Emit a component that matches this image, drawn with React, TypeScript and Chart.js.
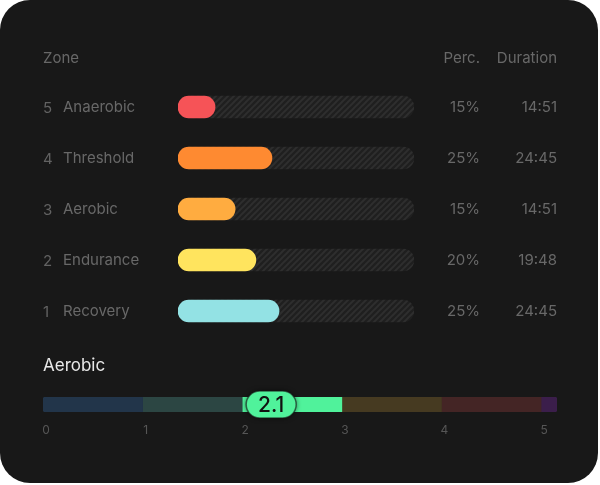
import React, { useEffect, useRef } from "react";
import { Chart, registerables } from "chart.js";

Chart.register(...registerables);

// ---- Data ----
const headers = ["Zone", "Perc.", "Duration"];
const zoneNumbers = ["5", "4", "3", "2", "1"];
const zoneNames = ["Anaerobic", "Threshold", "Aerobic", "Endurance", "Recovery"];
const barValues = [15.7, 39.8, 24.2, 33.0, 42.8];
const trackValues = [100, 100, 100, 100, 100];
const percLabels = ["15%", "25%", "15%", "20%", "25%"];
const durationLabels = ["14:51", "24:45", "14:51", "19:48", "24:45"];
const zoneColors = ["#f65357", "#fe8a31", "#ffac40", "#ffe45e", "#93e2e4"];

const gaugeTitle = "Aerobic";
const gaugeSegments = [1, 1, 1, 1, 1, 0.16];
const gaugeColors = ["#22354a", "#2c4643", "#50f29b", "#463a21", "#442525", "#3b1e4b"];
const gaugeTicks = [0, 1, 2, 3, 4, 5];
const gaugeValue = 2.1;

const FONT = "Inter, 'Noto Sans', sans-serif";

function makeHatch(): CanvasPattern | string {
  const c = document.createElement("canvas");
  c.width = 6;
  c.height = 6;
  const g = c.getContext("2d");
  if (!g) return "#222";
  g.fillStyle = "#1f1f1f";
  g.fillRect(0, 0, 6, 6);
  g.strokeStyle = "#2e2e2e";
  g.lineWidth = 2;
  g.beginPath();
  g.moveTo(-1, 7);
  g.lineTo(7, -1);
  g.moveTo(-1, 1);
  g.lineTo(1, -1);
  g.moveTo(5, 7);
  g.lineTo(7, 5);
  g.stroke();
  const p = g.createPattern(c, "repeat");
  return p || "#222";
}

export default function App() {
  const tableRef = useRef<HTMLCanvasElement | null>(null);
  const gaugeRef = useRef<HTMLCanvasElement | null>(null);

  useEffect(() => {
    document.body.style.margin = "0";
    document.body.style.background = "#ffffff";

    const tableText = {
      id: "tableText",
      afterDraw(chart: any) {
        const ctx = chart.ctx;
        const y = chart.scales.y;
        ctx.save();
        ctx.font = `15px ${FONT}`;
        ctx.fillStyle = "#686868";
        ctx.textBaseline = "middle";
        ctx.textAlign = "left";
        ctx.fillText(headers[0], 43, 58);
        ctx.textAlign = "right";
        ctx.fillText(headers[1], 480, 58);
        ctx.fillText(headers[2], 557, 58);
        zoneNames.forEach((name, i) => {
          const py = y.getPixelForValue(i);
          ctx.textAlign = "left";
          ctx.fillStyle = "#626262";
          ctx.fillText(zoneNumbers[i], 43, py + 1);
          ctx.fillStyle = "#686868";
          ctx.fillText(name, 63, py);
          ctx.textAlign = "right";
          ctx.fillText(percLabels[i], 480, py);
          ctx.fillText(durationLabels[i], 557, py);
        });
        ctx.restore();
      },
    };

    const hatch = makeHatch();
    const tableChart = new Chart(tableRef.current as HTMLCanvasElement, {
      type: "bar",
      data: {
        labels: zoneNames,
        datasets: [
          {
            data: barValues,
            backgroundColor: zoneColors,
            borderRadius: 11,
            borderSkipped: false,
            barThickness: 22,
            grouped: false,
          } as any,
          {
            data: trackValues,
            backgroundColor: hatch as any,
            borderRadius: 11,
            borderSkipped: false,
            barThickness: 22,
            grouped: false,
          } as any,
        ],
      },
      options: {
        indexAxis: "y",
        responsive: false,
        animation: false,
        devicePixelRatio: 1,
        layout: { padding: { left: 178, right: 184, top: 81.5, bottom: 3.5 } },
        scales: {
          x: { display: false, min: 0, max: 100 },
          y: { display: false },
        },
        plugins: { legend: { display: false }, tooltip: { enabled: false } },
      },
      plugins: [tableText],
    });

    const gaugeText = {
      id: "gaugeText",
      afterDraw(chart: any) {
        const ctx = chart.ctx;
        const xs = chart.scales.x;
        const ys = chart.scales.y;
        ctx.save();
        // title
        ctx.font = `17px ${FONT}`;
        ctx.fillStyle = "#e8e8e8";
        ctx.textBaseline = "middle";
        ctx.textAlign = "left";
        ctx.fillText(gaugeTitle, 43, 26);
        // tick labels
        ctx.font = `12px ${FONT}`;
        ctx.fillStyle = "#565656";
        ctx.textAlign = "center";
        gaugeTicks.forEach((t) => {
          ctx.fillText(String(t), xs.getPixelForValue(t) + 3, 90);
        });
        // value pill
        const cx = xs.getPixelForValue(gaugeValue) + 19;
        const cy = ys.getPixelForValue(0);
        const w = 50;
        const h = 27;
        ctx.shadowColor = "rgba(0,0,0,0.6)";
        ctx.shadowBlur = 5;
        ctx.beginPath();
        (ctx as any).roundRect(cx - w / 2, cy - h / 2, w, h, h / 2);
        ctx.fillStyle = "#50f29b";
        ctx.fill();
        ctx.shadowColor = "transparent";
        ctx.shadowBlur = 0;
        ctx.lineWidth = 1.5;
        ctx.strokeStyle = "rgba(20,20,20,0.6)";
        ctx.stroke();
        ctx.font = `500 21px ${FONT}`;
        ctx.fillStyle = "#111111";
        ctx.textAlign = "center";
        ctx.fillText(String(gaugeValue), cx, cy + 1);
        ctx.restore();
      },
    };

    const last = gaugeSegments.length - 1;
    const gaugeChart = new Chart(gaugeRef.current as HTMLCanvasElement, {
      type: "bar",
      data: {
        labels: ["zone"],
        datasets: gaugeSegments.map((v, i) => ({
          data: [v],
          backgroundColor: gaugeColors[i],
          barThickness: 15,
          borderSkipped: false,
          borderRadius:
            i === 0
              ? { topLeft: 3, bottomLeft: 3, topRight: 0, bottomRight: 0 }
              : i === last
              ? { topLeft: 0, bottomLeft: 0, topRight: 3, bottomRight: 3 }
              : 0,
        })) as any,
      },
      options: {
        indexAxis: "y",
        responsive: false,
        animation: false,
        devicePixelRatio: 1,
        layout: { padding: { left: 43, right: 41, top: 57, bottom: 71 } },
        scales: {
          x: { display: false, stacked: true, min: 0, max: 5.16 },
          y: { display: false, stacked: true },
        },
        plugins: { legend: { display: false }, tooltip: { enabled: false } },
      },
      plugins: [gaugeText],
    });

    return () => {
      tableChart.destroy();
      gaugeChart.destroy();
    };
  }, []);

  return (
    <div
      style={{
        position: "relative",
        width: 598,
        height: 483,
        borderRadius: 30,
        background: "#181818",
        overflow: "hidden",
      }}
    >
      <canvas
        ref={tableRef}
        width={598}
        height={340}
        style={{ position: "absolute", left: 0, top: 0, width: 598, height: 340 }}
      />
      <canvas
        ref={gaugeRef}
        width={598}
        height={143}
        style={{ position: "absolute", left: 0, top: 340, width: 598, height: 143 }}
      />
    </div>
  );
}
